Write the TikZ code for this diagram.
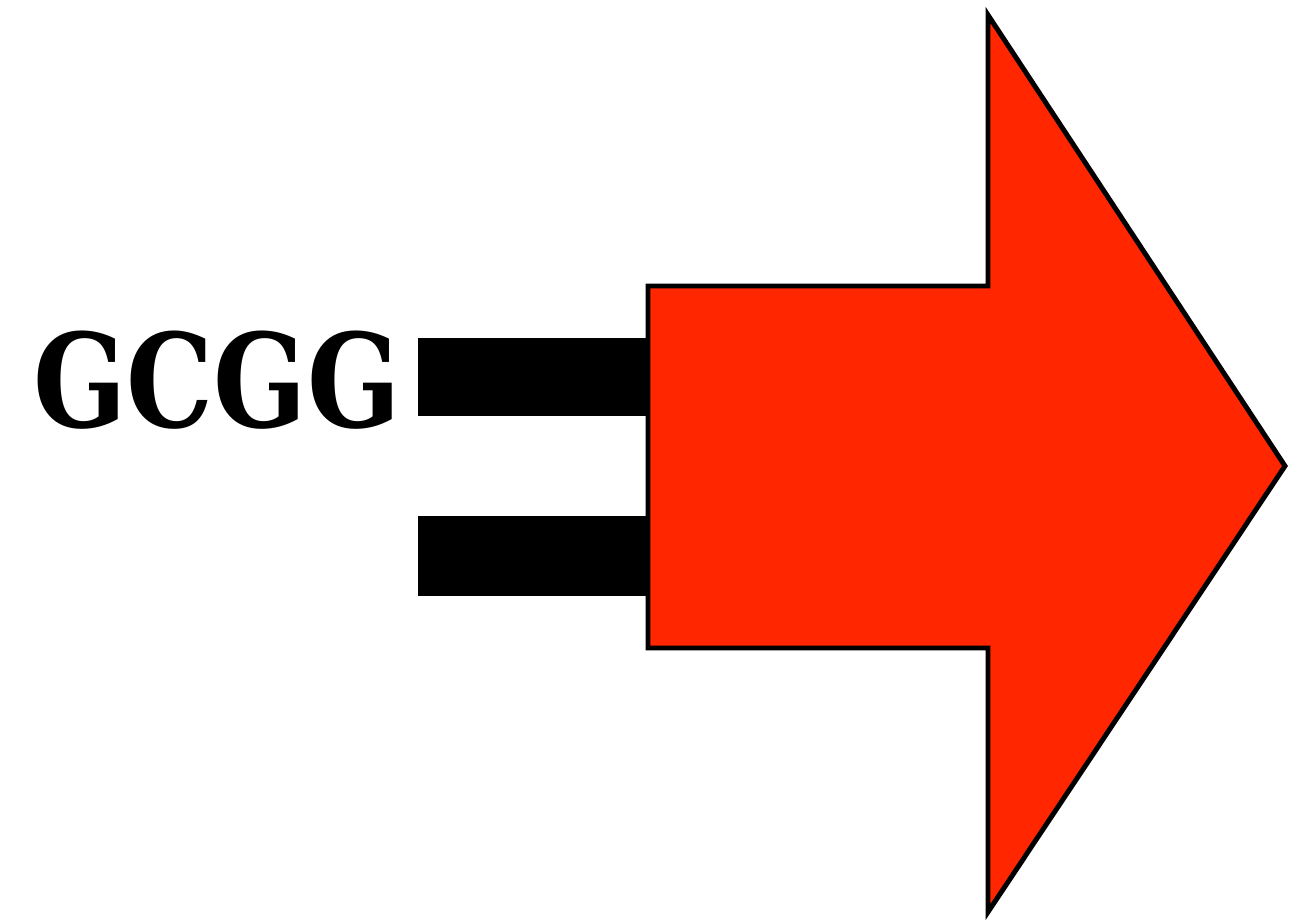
\documentclass[tikz,border=0pt]{standalone}
\usepackage{fontspec}
\newfontfamily\labelfont{DejaVu Serif}
\begin{document}
\begin{tikzpicture}[
    x=0.01cm, y=-0.01cm,
    line width=1.4pt,
    every node/.style={font=\labelfont\bfseries}
]
\definecolor{arrowred}{RGB}{255,38,0}

\useasboundingbox (0,0) rectangle (1314,922);

\def\Bl{418}
\def\Br{648}

% Bars
\fill (\Bl,338) rectangle (\Br,416);
\fill (\Bl,516) rectangle (\Br,596);

% Arrow
\draw[fill=arrowred, line join=miter]
      (648,286) -- (988,286) -- (988,15) -- (1285,466)
   -- (988,912) -- (988,648) -- (648,648) -- cycle;

\node[anchor=base, inner sep=0pt, xscale=0.84,
      font=\labelfont\bfseries\fontsize{37pt}{37pt}\selectfont]
      (seq) at (217,428) {GCGG};

\end{tikzpicture}
\end{document}
